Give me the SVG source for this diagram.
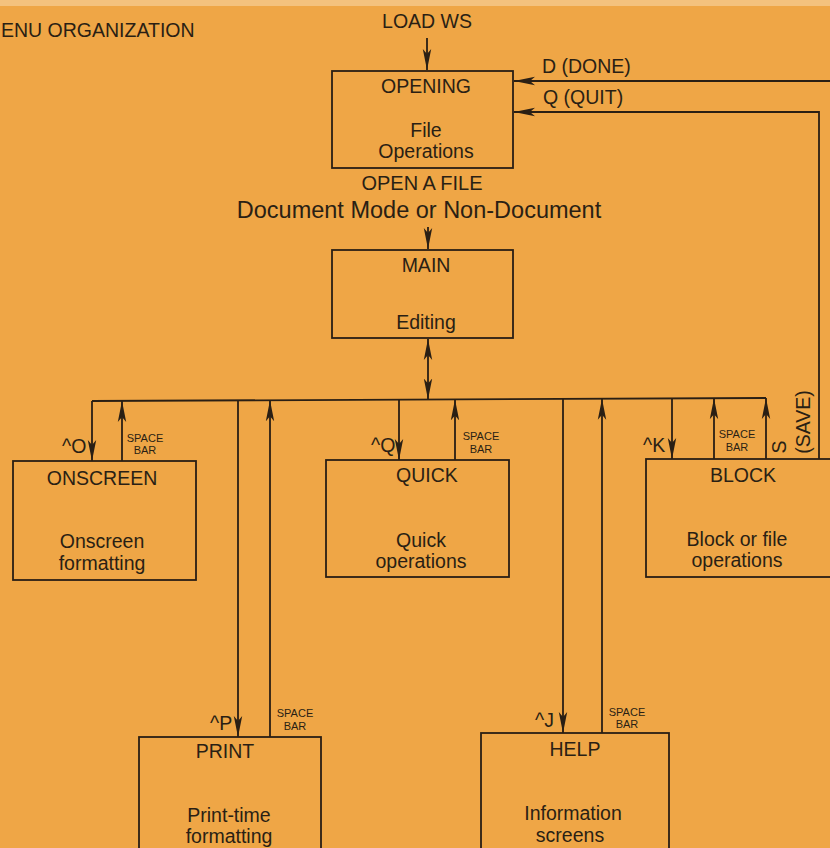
<svg xmlns="http://www.w3.org/2000/svg" width="830" height="848" viewBox="0 0 830 848">
<defs>
<marker id="ah" markerUnits="userSpaceOnUse" markerWidth="21" markerHeight="10" refX="21" refY="5" viewBox="0 0 21 10" orient="auto-start-reverse">
<path d="M0,0.8 L21,5 L0,9.2 L5,5 Z" fill="#2a1f14"/>
</marker>
</defs>
<style>
text{font-family:"Liberation Sans",Arial,sans-serif;fill:#2a1f14}
.t{font-size:19.5px;text-anchor:middle}
.l{font-size:19.5px}
.s{font-size:11px;text-anchor:middle}
.box{fill:none;stroke:#2a1f14;stroke-width:1.8}
.c path{fill:none;stroke:#2a1f14;stroke-width:1.8}
.a{marker-end:url(#ah)}
</style>
<rect x="0" y="0" width="830" height="848" fill="#EFA646"/>
<rect x="0" y="0" width="830" height="6" fill="#F4C27E"/>

<text class="l" x="1" y="37">ENU ORGANIZATION</text>
<text class="t" x="427" y="28">LOAD WS</text>
<text class="l" x="542" y="73">D (DONE)</text>
<text class="l" x="543" y="104">Q (QUIT)</text>
<text class="t" x="422" y="190" style="font-size:20px">OPEN A FILE</text>
<text class="t" x="419" y="218" style="font-size:23.5px">Document Mode or Non-Document</text>

<g id="opening">
<rect class="box" x="332" y="71" width="181" height="97"/>
<text class="t" x="426" y="93">OPENING</text>
<text class="t" x="426" y="137">File</text>
<text class="t" x="426" y="158">Operations</text>
</g>

<g id="main">
<rect class="box" x="332" y="250" width="181" height="88"/>
<text class="t" x="426" y="272">MAIN</text>
<text class="t" x="426" y="329">Editing</text>
</g>

<g id="onscreen">
<rect class="box" x="13" y="461" width="183" height="119"/>
<text class="t" x="102" y="485">ONSCREEN</text>
<text class="t" x="102" y="548">Onscreen</text>
<text class="t" x="102" y="570">formatting</text>
</g>

<g id="quick">
<rect class="box" x="326" y="460" width="183" height="117"/>
<text class="t" x="427" y="482">QUICK</text>
<text class="t" x="421" y="547">Quick</text>
<text class="t" x="421" y="568">operations</text>
</g>

<g id="block">
<rect class="box" x="646" y="459" width="200" height="118"/>
<text class="t" x="743" y="482">BLOCK</text>
<text class="t" x="737" y="546">Block or file</text>
<text class="t" x="737" y="567">operations</text>
</g>

<g id="print">
<rect class="box" x="139" y="737" width="182" height="130"/>
<text class="t" x="225" y="758">PRINT</text>
<text class="t" x="229" y="822">Print-time</text>
<text class="t" x="229" y="843">formatting</text>
</g>

<g id="help">
<rect class="box" x="481" y="733" width="188" height="130"/>
<text class="t" x="575" y="756">HELP</text>
<text class="t" x="573" y="820">Information</text>
<text class="t" x="570" y="842">screens</text>
</g>

<g id="connectors" class="c">
<path class="a" d="M427,38 V70"/>
<path class="a" d="M832,81 H514"/>
<path class="a" d="M819,459 V112 H514"/>
<path class="a" d="M428,227 V249"/>
<path class="a" d="M428,339 V399.5" style="marker-start:url(#ah)"/>
<path d="M92,401 L766,398"/>
<path class="a" d="M92,401 V461"/>
<path class="a" d="M122,461 V401"/>
<path class="a" d="M238,400.4 V737"/>
<path class="a" d="M270,737 V400.3"/>
<path class="a" d="M399,399.6 V460"/>
<path class="a" d="M455,460 V399.4"/>
<path class="a" d="M563,398.9 V733"/>
<path class="a" d="M602,733 V398.8"/>
<path class="a" d="M672,398.4 V459"/>
<path class="a" d="M714,459 V398.2"/>
<path class="a" d="M766,459 V398"/>
</g>

<g id="labels">
<text class="l" x="62" y="453">^O</text>
<text class="s" x="145" y="442">SPACE</text>
<text class="s" x="145" y="454">BAR</text>
<text class="l" x="371" y="452">^Q</text>
<text class="s" x="481" y="440">SPACE</text>
<text class="s" x="481" y="453">BAR</text>
<text class="l" x="643" y="452">^K</text>
<text class="s" x="737" y="438">SPACE</text>
<text class="s" x="737" y="451">BAR</text>
<text class="t" transform="translate(786,447) rotate(-90)">S</text>
<text class="t" transform="translate(810,422) rotate(-90)">(SAVE)</text>
<text class="l" x="210" y="730">^P</text>
<text class="s" x="295" y="717">SPACE</text>
<text class="s" x="295" y="730">BAR</text>
<text class="l" x="535" y="727">^J</text>
<text class="s" x="627" y="716">SPACE</text>
<text class="s" x="627" y="728">BAR</text>
</g>
</svg>
